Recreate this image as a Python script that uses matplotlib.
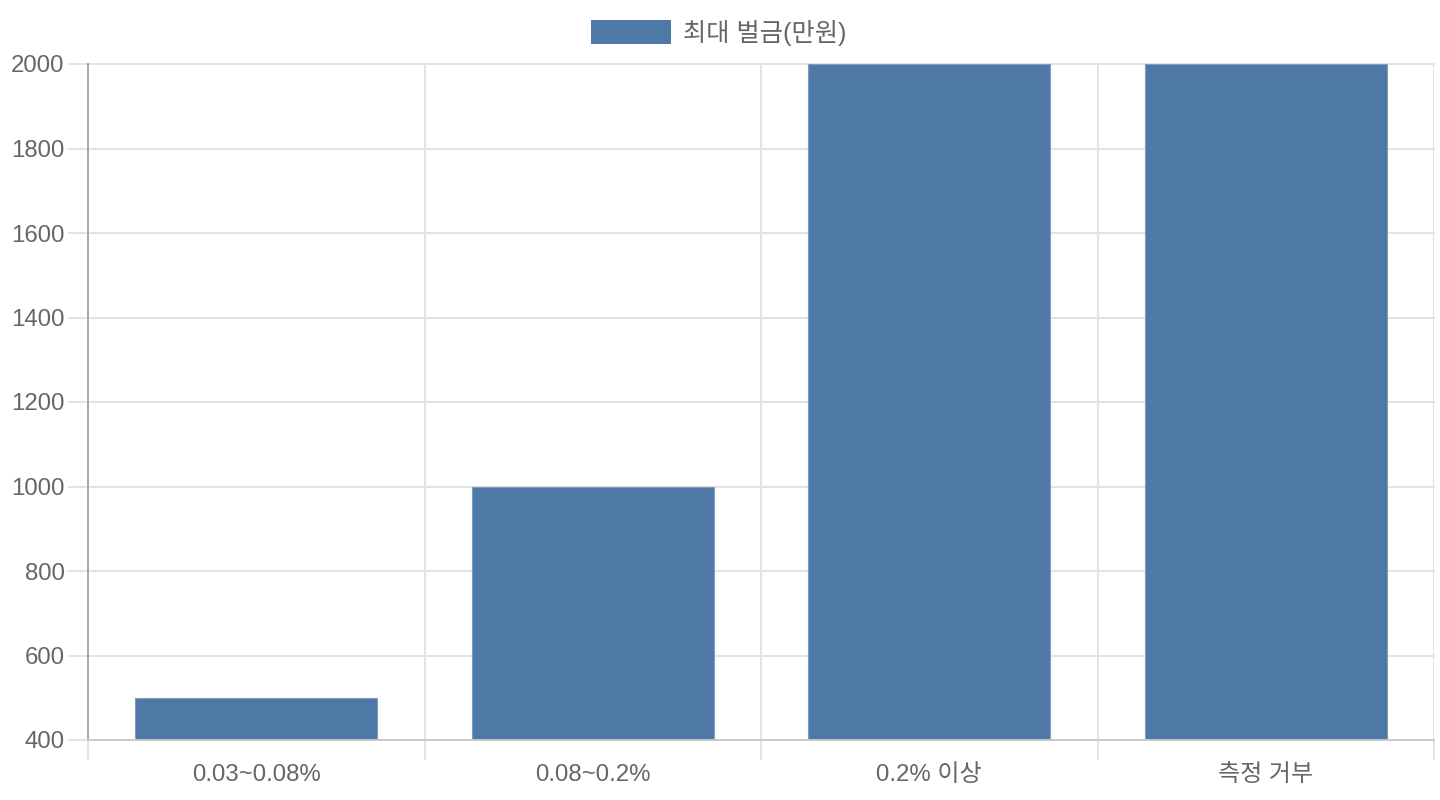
import matplotlib
matplotlib.use("Agg")
import matplotlib.pyplot as plt
from matplotlib.patches import Rectangle
from matplotlib.ticker import FixedLocator

categories = ["0.03~0.08%", "0.08~0.2%", "0.2% 이상", "측정 거부"]
fines = [500, 1000, 2000, 2000]
series_label = "최대 벌금(만원)"
y_ticks = [400, 600, 800, 1000, 1200, 1400, 1600, 1800, 2000]

FONT = ["Liberation Sans", "Noto Sans CJK KR", "DejaVu Sans"]
plt.rcParams["font.family"] = FONT
TXT = "#666666"
BAR = "#4e79a7"
GRID = "#e3e3e3"
FS = 17.3

W, H = 1440, 800
fig = plt.figure(figsize=(W / 100, H / 100), dpi=100)
L, R, T, B = 88, 1434, 64, 740
ax = fig.add_axes([L / W, 1 - B / H, (R - L) / W, (B - T) / H])

x = list(range(len(categories)))
ax.bar(x, fines, width=0.72, color=BAR, edgecolor="#7f9bbd", linewidth=0.8, zorder=2)

ax.set_xlim(-0.5, len(categories) - 0.5)
ax.set_ylim(y_ticks[0], y_ticks[-1])
ax.set_yticks(y_ticks)
ax.set_yticklabels([str(v) for v in y_ticks])
ax.set_xticks(x)
ax.set_xticklabels(categories)
ax.xaxis.set_minor_locator(FixedLocator([i - 0.5 for i in range(len(categories) + 1)]))

ax.set_axisbelow(True)
ax.grid(axis="y", which="major", color=GRID, linewidth=1.4)
ax.grid(axis="x", which="minor", color=GRID, linewidth=1.4)
for gl in ax.get_ygridlines() + ax.xaxis.get_minorticklines():
    gl.set_clip_on(False)

ax.tick_params(axis="y", which="major", length=14.4, width=1.4, color=GRID,
               labelsize=FS, labelcolor=TXT, pad=2.5)
ax.tick_params(axis="x", which="major", length=0, labelsize=FS, labelcolor=TXT, pad=17.5)
ax.tick_params(axis="x", which="minor", length=14.4, width=1.4, color=GRID)

for s in ["top", "right"]:
    ax.spines[s].set_visible(False)
ax.spines["left"].set_color("#a8a8a8")
ax.spines["left"].set_linewidth(1.4)
ax.spines["left"].set_bounds(y_ticks[0], y_ticks[-1])
ax.spines["bottom"].set_color("#c8c8c8")
ax.spines["bottom"].set_linewidth(1.4)

# legend
fig.add_artist(Rectangle((591 / W, 1 - 44 / H), 80 / W, 24 / H,
                         transform=fig.transFigure, facecolor=BAR, edgecolor="none"))
fig.text(683 / W, 1 - 33 / H, series_label, fontsize=18.2, color=TXT,
         va="center", ha="left")

fig.savefig("out.png", dpi=100)
